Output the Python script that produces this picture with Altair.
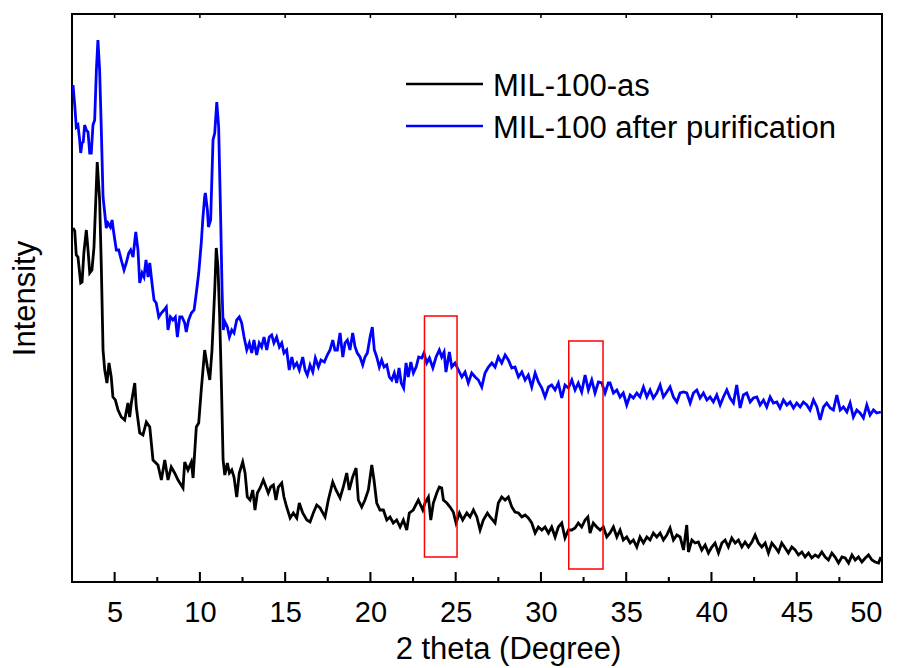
import altair as alt
import pandas as pd

# Series names and colours
series_names = ["MIL-100-as", "MIL-100 after purification"]
series_colors = ["#000000", "#0000FF"]

# MIL-100-as pattern: 2theta (degree) and intensity (a.u.)
as_two_theta = [
    2.56, 2.66, 2.75, 2.85, 3.01, 3.09, 3.20, 3.34, 3.44, 3.54, 3.67, 3.79, 3.98, 4.12, 4.22, 4.32,
    4.42, 4.55, 4.67, 4.80, 4.90, 5.04, 5.20, 5.39, 5.59, 5.78, 5.88, 5.98, 6.18, 6.27, 6.47, 6.66,
    6.86, 7.06, 7.25, 7.54, 7.74, 7.94, 8.13, 8.32, 8.52, 8.72, 9.01, 9.11, 9.30, 9.50, 9.60, 9.79,
    9.93, 10.08, 10.28, 10.44, 10.58, 10.71, 10.87, 10.96, 11.06, 11.16, 11.26, 11.36, 11.46, 11.61,
    11.73, 11.87, 12.00, 12.16, 12.31, 12.51, 12.65, 12.78, 12.94, 13.10, 13.23, 13.37, 13.53, 13.72,
    13.88, 14.01, 14.15, 14.31, 14.46, 14.60, 14.80, 14.93, 15.09, 15.29, 15.48, 15.68, 15.83, 16.03,
    16.27, 16.46, 16.65, 16.85, 17.05, 17.34, 17.53, 17.79, 17.98, 18.22, 18.41, 18.61, 18.76, 18.96,
    19.16, 19.29, 19.49, 19.68, 19.88, 20.08, 20.21, 20.37, 20.56, 20.76, 20.96, 21.15, 21.34, 21.54,
    21.74, 21.93, 22.13, 22.28, 22.51, 22.81, 23.07, 23.20, 23.40, 23.54, 23.69, 23.89, 24.04, 24.18,
    24.28, 24.48, 24.67, 24.86, 25.02, 25.22, 25.41, 25.65, 25.84, 26.04, 26.24, 26.43, 26.62, 26.86,
    27.02, 27.31, 27.50, 27.70, 27.90, 28.09, 28.29, 28.48, 28.68, 28.88, 29.07, 29.26, 29.46, 29.66,
    29.85, 30.05, 30.24, 30.44, 30.63, 30.83, 31.02, 31.22, 31.41, 31.61, 31.81, 32.00, 32.19, 32.39,
    32.59, 32.75, 32.88, 33.07, 33.27, 33.47, 33.66, 33.86, 34.05, 34.25, 34.45, 34.64, 34.83, 35.03,
    35.23, 35.42, 35.62, 35.81, 36.01, 36.21, 36.40, 36.59, 36.79, 36.99, 37.18, 37.38, 37.57, 37.77,
    37.97, 38.16, 38.36, 38.55, 38.65, 38.85, 39.04, 39.23, 39.43, 39.63, 39.82, 40.02, 40.21, 40.41,
    40.61, 40.80, 40.99, 41.19, 41.39, 41.58, 41.78, 41.97, 42.17, 42.37, 42.56, 42.75, 42.95, 43.15,
    43.34, 43.54, 43.73, 43.93, 44.12, 44.32, 44.51, 44.71, 44.91, 45.10, 45.30, 45.49, 45.69, 45.88,
    46.08, 46.27, 46.47, 46.67, 46.86, 47.06, 47.25, 47.45, 47.65, 47.84, 48.04, 48.24, 48.43, 48.62,
    48.82, 49.02, 49.21, 49.41, 49.60, 49.80, 49.93,
]
as_intensity = [
    354, 351, 327, 325, 299, 300, 330, 352, 332, 309, 312, 335, 420, 382, 315, 232,
    212, 199, 219, 205, 185, 182, 172, 165, 162, 179, 165, 179, 199, 175, 149, 147,
    160, 155, 122, 117, 102, 122, 102, 115, 109, 102, 94, 120, 112, 120, 104, 155,
    159, 192, 232, 215, 202, 232, 292, 334, 315, 265, 199, 122, 107, 119,
    109, 112, 105, 85, 109, 120, 109, 85, 82, 92, 72, 89, 94, 102,
    95, 89, 95, 97, 82, 95, 99, 85, 75, 64, 69, 64, 79, 69,
    62, 60, 69, 77, 74, 65, 82, 100, 92, 84, 95, 109, 92, 105,
    114, 82, 75, 82, 92, 117, 102, 79, 72, 72, 62, 65, 59, 62,
    55, 62, 52, 69, 72, 82, 72, 79, 85, 62, 79, 89, 95, 94,
    82, 79, 75, 70, 59, 69, 62, 69, 65, 72, 65, 52, 62, 69,
    65, 59, 79, 85, 82, 85, 75, 70, 69, 65, 67, 64, 59, 49,
    55, 52, 55, 49, 55, 45, 55, 59, 44, 52, 52, 54, 59, 55,
    62, 65, 49, 59, 55, 52, 55, 45, 49, 55, 45, 52, 42, 45,
    39, 42, 35, 45, 39, 45, 42, 49, 45, 49, 42, 47, 54, 42,
    47, 45, 32, 57, 30, 42, 39, 40, 32, 37, 29, 35, 39, 29,
    39, 42, 35, 44, 39, 42, 35, 40, 35, 40, 47, 39, 35, 39,
    29, 39, 35, 30, 39, 34, 29, 35, 32, 27, 30, 25, 29, 24,
    27, 25, 30, 25, 22, 29, 25, 19, 25, 24, 19, 27, 22, 25,
    20, 24, 27, 22, 20, 19, 25,
]

# MIL-100 after purification pattern: 2theta (degree) and intensity (a.u.)
pur_two_theta = [
    2.56, 2.66, 2.75, 2.85, 2.95, 3.01, 3.09, 3.16, 3.24, 3.34, 3.44, 3.54, 3.63, 3.73, 3.83, 3.93,
    4.02, 4.12, 4.22, 4.32, 4.42, 4.51, 4.61, 4.75, 4.85, 4.95, 5.10, 5.24, 5.39, 5.55, 5.68, 5.83,
    5.94, 6.08, 6.24, 6.37, 6.47, 6.61, 6.72, 6.84, 6.96, 7.06, 7.19, 7.31, 7.44, 7.59, 7.74, 7.90,
    8.03, 8.13, 8.27, 8.42, 8.56, 8.68, 8.82, 8.95, 9.11, 9.20, 9.34, 9.50, 9.66, 9.79, 9.93, 10.08,
    10.18, 10.28, 10.32, 10.44, 10.50, 10.63, 10.77, 10.87, 10.99, 11.10, 11.22, 11.30, 11.37, 11.47,
    11.61, 11.73, 11.87, 12.00, 12.16, 12.31, 12.45, 12.59, 12.75, 12.90, 13.04, 13.17, 13.33, 13.48,
    13.62, 13.76, 13.92, 14.07, 14.21, 14.34, 14.50, 14.66, 14.80, 14.93, 15.09, 15.24, 15.39, 15.52,
    15.68, 15.83, 16.03, 16.17, 16.30, 16.46, 16.62, 16.77, 16.95, 17.10, 17.30, 17.47, 17.63, 17.79,
    17.92, 18.06, 18.22, 18.38, 18.51, 18.65, 18.80, 18.96, 19.10, 19.23, 19.39, 19.55, 19.68, 19.82,
    19.98, 20.11, 20.23, 20.37, 20.52, 20.66, 20.80, 20.96, 21.11, 21.25, 21.40, 21.54, 21.68, 21.81,
    21.95, 22.09, 22.22, 22.37, 22.52, 22.68, 22.83, 23.01, 23.14, 23.30, 23.46, 23.66, 23.85, 24.04,
    24.18, 24.32, 24.43, 24.63, 24.77, 24.96, 25.16, 25.36, 25.55, 25.74, 25.94, 26.14, 26.33, 26.53,
    26.72, 26.92, 27.12, 27.31, 27.50, 27.70, 27.90, 28.09, 28.29, 28.48, 28.68, 28.88, 29.07, 29.26,
    29.46, 29.66, 29.85, 30.05, 30.24, 30.44, 30.63, 30.83, 31.02, 31.22, 31.41, 31.61, 31.81, 32.00,
    32.19, 32.39, 32.59, 32.78, 32.98, 33.17, 33.37, 33.57, 33.76, 33.95, 34.05, 34.25, 34.45, 34.64,
    34.83, 35.03, 35.23, 35.42, 35.62, 35.81, 36.01, 36.21, 36.40, 36.59, 36.79, 36.99, 37.18, 37.38,
    37.57, 37.77, 37.97, 38.16, 38.36, 38.55, 38.75, 38.94, 39.14, 39.33, 39.53, 39.73, 39.92, 40.11,
    40.31, 40.51, 40.70, 40.90, 41.09, 41.29, 41.48, 41.68, 41.87, 42.07, 42.27, 42.46, 42.66, 42.85,
    43.05, 43.24, 43.44, 43.63, 43.83, 44.02, 44.22, 44.42, 44.61, 44.81, 45.00, 45.20, 45.39, 45.59,
    45.78, 45.98, 46.18, 46.37, 46.57, 46.76, 46.96, 47.15, 47.35, 47.55, 47.74, 47.94, 48.13, 48.32,
    48.52, 48.71, 48.91, 49.11, 49.30, 49.50, 49.69, 49.93,
]
pur_intensity = [
    497, 477, 455, 457, 442, 429, 439, 440, 457, 452, 450, 429, 429, 457, 462, 512,
    542, 512, 452, 385, 369, 354, 359, 355, 362, 349, 332, 332, 322, 312, 319, 329,
    332, 325, 350, 332, 299, 309, 305, 322, 305, 319, 299, 282, 279, 265, 269, 272,
    275, 252, 265, 262, 265, 245, 265, 265, 259, 250, 262, 269, 272, 289, 309, 339,
    365, 385, 389, 372, 355, 362, 442, 449, 480, 455, 362, 292, 252, 260,
    255, 245, 252, 249, 262, 265, 259, 245, 232, 239, 229, 242, 227, 239,
    235, 245, 232, 245, 247, 239, 245, 235, 239, 229, 232, 212, 225, 215,
    219, 212, 225, 212, 207, 217, 210, 224, 215, 222, 220, 227, 232, 242,
    232, 232, 249, 225, 239, 242, 232, 249, 235, 229, 225, 217, 225, 229,
    245, 255, 232, 225, 215, 222, 215, 217, 205, 202, 209, 199, 214, 199,
    194, 219, 205, 220, 209, 215, 225, 224, 229, 219, 224, 214, 225, 232,
    225, 230, 210, 230, 215, 219, 212, 205, 210, 199, 209, 205, 202, 195,
    209, 215, 219, 215, 225, 219, 227, 222, 214, 215, 205, 210, 202, 207,
    195, 209, 200, 194, 185, 195, 197, 192, 199, 184, 197, 194, 202, 192,
    199, 190, 207, 192, 202, 189, 200, 199, 189, 199, 199, 189, 192, 185,
    189, 177, 187, 184, 189, 185, 195, 185, 192, 184, 189, 197, 185, 190,
    195, 185, 180, 189, 190, 189, 179, 189, 192, 184, 189, 182, 185, 180,
    187, 177, 185, 192, 184, 179, 197, 174, 187, 189, 180, 184, 185, 177,
    182, 175, 185, 179, 180, 174, 182, 177, 180, 174, 179, 175, 180, 177,
    172, 182, 175, 162, 175, 179, 174, 172, 187, 172, 175, 170, 179, 165,
    172, 169, 164, 177, 167, 172, 169, 170,
]

# Axis tick positions
major_ticks = [5, 10, 15, 20, 25, 30, 35, 40, 45, 50]
minor_ticks = [7.5, 12.5, 17.5, 22.5, 27.5, 32.5, 37.5, 42.5, 47.5]

# Highlighted 2theta windows (red boxes)
box_start = [23.17, 31.63]
box_end = [25.08, 33.64]
box_low = [25, 13]
box_high = [266, 241]

W, H = 810, 568
Y_MAX = 568
FONT = "Liberation Sans"

x_scale = alt.Scale(domain=[2.5, 50], nice=False, zero=False)
y_scale = alt.Scale(domain=[0, Y_MAX], nice=False, zero=False)

df_as = pd.DataFrame({"two_theta": as_two_theta, "intensity": as_intensity})
df_pur = pd.DataFrame({"two_theta": pur_two_theta, "intensity": pur_intensity})

# One axis definition per channel, repeated in every layer so the layers merge cleanly
x_axis = alt.Axis(
    values=major_ticks, format="d", ticks=False, domain=False, grid=False,
    labelFontSize=29, labelFont=FONT, labelColor="black", labelPadding=16,
    title="2 theta (Degree)", titleFontSize=31, titleFont=FONT, titleFontWeight="normal",
    titleColor="black", titlePadding=7, titleX=436, titleAlign="center",
)
y_axis = alt.Axis(
    labels=False, ticks=False, domain=False, grid=False,
    title="Intensity", titleFontSize=31, titleFont=FONT, titleFontWeight="normal",
    titleColor="black", titlePadding=31,
)

line_as = alt.Chart(df_as).mark_line(color=series_colors[0], strokeWidth=2.8).encode(
    x=alt.X("two_theta:Q", scale=x_scale, axis=x_axis),
    y=alt.Y("intensity:Q", scale=y_scale, axis=y_axis),
)
line_pur = alt.Chart(df_pur).mark_line(color=series_colors[1], strokeWidth=2.8).encode(
    x=alt.X("two_theta:Q", axis=x_axis),
    y=alt.Y("intensity:Q", axis=y_axis),
)

boxes = alt.Chart(pd.DataFrame({
    "x0": box_start, "x1": box_end, "y0": box_low, "y1": box_high,
})).mark_rect(fill=None, fillOpacity=0, stroke="#FF0000", strokeWidth=1.5).encode(
    x=alt.X("x0:Q", axis=x_axis), x2="x1",
    y=alt.Y("y0:Q", axis=y_axis), y2="y1",
)


# Tick marks on the frame, drawn as thin filled bars through the intensity scale
# (half-width in degrees; extent in intensity units, which map 1:1 to pixels)
def frame_ticks(values, lo, hi, half):
    return alt.Chart(pd.DataFrame({"tick": values})).transform_calculate(
        a=f"datum.tick - {half}", b=f"datum.tick + {half}", lo=str(lo), hi=str(hi)
    ).mark_rect(color="black").encode(
        x=alt.X("a:Q", axis=x_axis), x2="b:Q",
        y=alt.Y("lo:Q", axis=y_axis), y2="hi:Q",
    )


bottom_major = frame_ticks(major_ticks, 0, 10, 0.06)
bottom_minor = frame_ticks(minor_ticks, 0, 5, 0.06)
top_major = frame_ticks(major_ticks, Y_MAX - 4, Y_MAX, 0.045)

# Legend drawn inside the plot
legend_items = []
for i, (name, col) in enumerate(zip(series_names, series_colors)):
    yline = 70 + 42 * i
    legend_items.append(
        alt.Chart(pd.DataFrame({"label": [name]})).mark_rule(color=col, strokeWidth=2.6).encode(
            x=alt.value(334), x2=alt.value(411), y=alt.value(yline))
    )
    legend_items.append(
        alt.Chart(pd.DataFrame({"label": [name]})).mark_text(
            align="left", baseline="alphabetic", font=FONT, fontSize=31, color="black"
        ).encode(text="label:N", x=alt.value(421), y=alt.value(yline + 12))
    )

chart = alt.layer(
    line_as, line_pur, boxes, bottom_major, bottom_minor, top_major, *legend_items
).properties(
    width=W, height=H,
    padding={"left": 72, "top": 14, "right": 21, "bottom": 86},
    autosize=alt.AutoSizeParams(type="none"),
    background="white",
).configure_view(
    stroke="#000000", strokeWidth=2
)

chart.save("out.html", embed_options={"renderer": "svg", "actions": False})
